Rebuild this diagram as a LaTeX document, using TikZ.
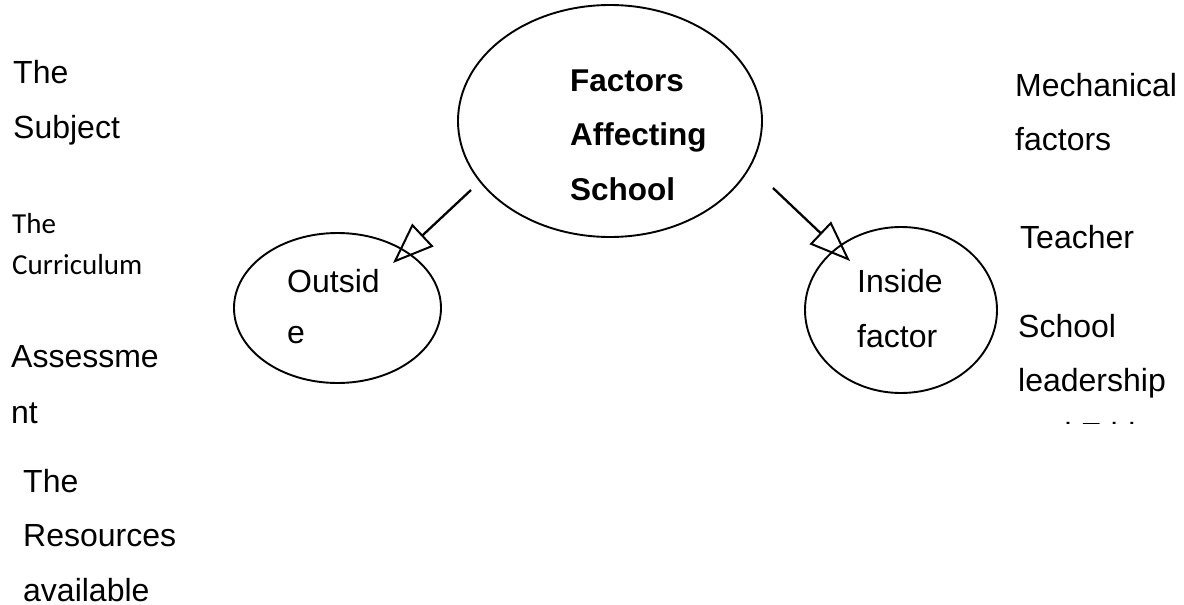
\documentclass[tikz,border=0pt]{standalone}
\usepackage{fontspec}
\setmainfont{Liberation Sans}
\newfontfamily\carlito{Carlito}
\usetikzlibrary{shapes.geometric,arrows.meta}
\tikzset{
  bubble/.style={ellipse, draw=black, line width=1.9pt, inner sep=0pt},
  label/.style={anchor=base west, inner sep=0pt, font=\fontsize{32}{55}\selectfont},
  clabel/.style={anchor=base west, inner sep=0pt, font=\carlito\fontsize{29}{41}\selectfont},
  link/.style={line width=2.3pt, -{Triangle[open, length=41pt, width=31pt, line width=2pt]}}
}
\newcommand{\lines}[1]{\begin{tabular}[t]{@{}l@{}}#1\end{tabular}}
\begin{document}
\begin{tikzpicture}[x=1pt,y=-1pt]
\useasboundingbox (0,0) rectangle (1184,605);
\fill[white] (0,0) rectangle (1184,605);
% ellipses
\node[bubble, minimum width=304pt, minimum height=232pt] (big) at (610,121) {};
\node[bubble, minimum width=207pt, minimum height=150pt] (outside) at (337.5,308) {};
\node[bubble, minimum width=192pt, minimum height=166pt] (inside) at (901,310) {};
% centre texts
\node[label, font=\bfseries\fontsize{31.5}{54.5}\selectfont] (title) at (570,91) {\lines{Factors\\Affecting\\School}};
\node[label, font=\fontsize{32}{51}\selectfont] (outtxt) at (287,292) {\lines{Outsid\\e}};
\node[label] (intxt) at (857,292) {\lines{Inside\\factor}};
% arrows
\coordinate (ls) at (471,190);
\coordinate (le) at (393,263);
\coordinate (rs) at (773,188);
\coordinate (re) at (850,261);
\draw[link] (ls) -- (le);
\draw[link] (rs) -- (re);
% left list
\node[label] (subj) at (13,83) {\lines{The\\Subject}};
\node[clabel] (curr) at (12,233) {\lines{The\\Curriculum}};
\node[label, font=\fontsize{32}{56}\selectfont] (assess) at (11,367) {\lines{Assessme\\nt}};
\node[label, font=\fontsize{32}{54.5}\selectfont] (res) at (23,492) {\lines{The\\Resources\\available}};
% right list
\node[label, font=\fontsize{32}{54}\selectfont] (mech) at (1015,96) {\lines{Mechanical\\factors}};
\node[label] (teach) at (1020,248) {Teacher};
\begin{scope}
\clip (990,300) rectangle (1184,423);
\node[label, font=\fontsize{32}{54}\selectfont] (lead) at (1018,337) {\lines{School\\leadership\\and Ethics}};
\end{scope}
\end{tikzpicture}
\end{document}
